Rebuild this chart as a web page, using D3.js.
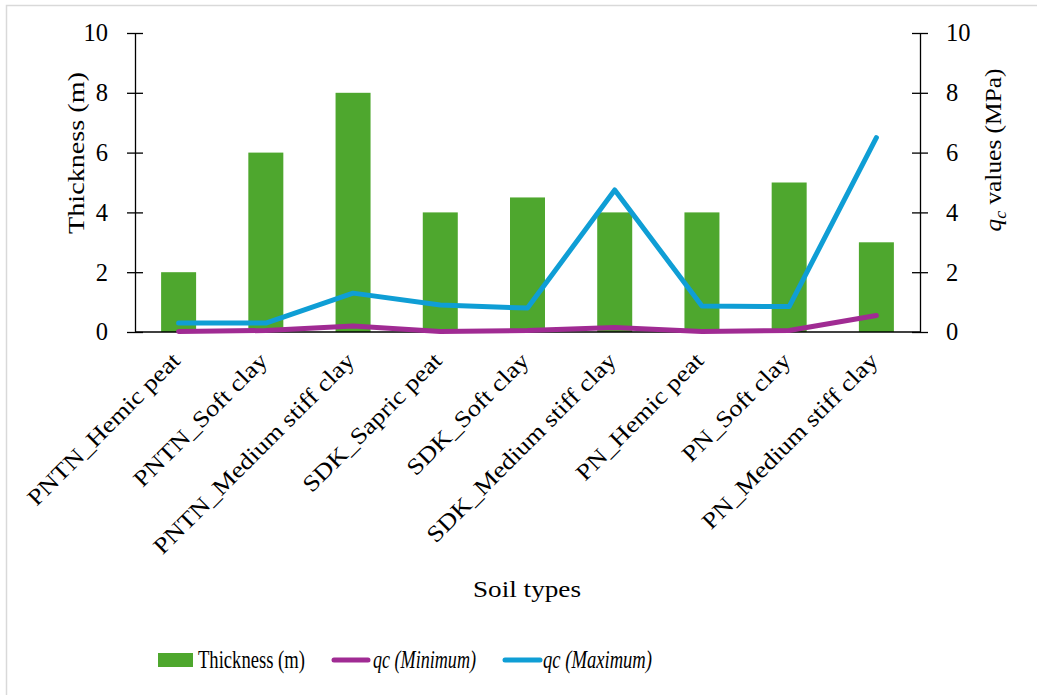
<!DOCTYPE html>
<html>
<head>
<meta charset="utf-8">
<script src="https://cdn.jsdelivr.net/npm/d3@7"></script>
<style>
  html, body { margin: 0; padding: 0; background: #fff; }
  svg { display: block; font-family: "Liberation Serif", "DejaVu Serif", serif; }
</style>
</head>
<body>
<svg id="chart" width="1037" height="695"></svg>
<script>
// Soil layers and their measured properties
const soilTypes = [
  "PNTN_Hemic peat", "PNTN_Soft clay", "PNTN_Medium stiff clay",
  "SDK_Sapric peat", "SDK_Soft clay", "SDK_Medium stiff clay",
  "PN_Hemic peat", "PN_Soft clay", "PN_Medium stiff clay"
];
const thickness = [2, 6, 8, 4, 4.5, 4, 4, 5, 3];
const qcMinimum = [0.02, 0.05, 0.2, 0.02, 0.05, 0.15, 0.02, 0.05, 0.55];
const qcMaximum = [0.3, 0.3, 1.3, 0.9, 0.8, 4.75, 0.87, 0.85, 6.5];
const leftTicks = [0, 2, 4, 6, 8, 10];
const rightTicks = [0, 2, 4, 6, 8, 10];

const colors = { bar: "#4EA72E", min: "#A02B93", max: "#0F9ED5" };

const svg = d3.select("#chart");
const plot = { left: 135, right: 920, top: 33, bottom: 332 };

// Widen a text element to a wider serif's proportions
function stretch(sel, factor) {
  sel.each(function () {
    const len = this.getComputedTextLength();
    d3.select(this).attr("textLength", len * factor).attr("lengthAdjust", "spacingAndGlyphs");
  });
}
function fitTo(sel, width) {
  sel.attr("textLength", width).attr("lengthAdjust", "spacingAndGlyphs");
}

// Outer frame (left and top edges visible)
svg.append("path")
  .attr("d", "M6.5,695 V5.5 H1037")
  .attr("fill", "none").attr("stroke", "#d9d9d9").attr("stroke-width", 1.5);

const xc = d3.scalePoint().domain(soilTypes).range([plot.left, plot.right]).padding(0.5);
const yL = d3.scaleLinear().domain([0, 10]).range([plot.bottom, plot.top]);
const yR = d3.scaleLinear().domain([0, 10]).range([plot.bottom, plot.top]);

// Bars: layer thickness
svg.append("g").selectAll("rect")
  .data(soilTypes)
  .join("rect")
  .attr("x", (d) => xc(d) - 17.5)
  .attr("width", 35)
  .attr("y", (d, i) => yL(thickness[i]))
  .attr("height", (d, i) => yL(0) - yL(thickness[i]))
  .attr("fill", colors.bar);

// X baseline
svg.append("line")
  .attr("x1", plot.left).attr("x2", plot.right)
  .attr("y1", plot.bottom).attr("y2", plot.bottom)
  .attr("stroke", "#000").attr("stroke-width", 1.3);

// Left axis
const leftAxis = svg.append("g")
  .attr("transform", `translate(${plot.left},0)`)
  .call(d3.axisLeft(yL).tickValues(leftTicks).tickSize(0).tickPadding(27));
leftAxis.select(".domain").attr("stroke", "#000").attr("stroke-width", 1.3);
leftAxis.selectAll(".tick line").remove();
leftAxis.selectAll(".tick").append("line")
  .attr("x1", -8).attr("x2", 8).attr("stroke", "#000").attr("stroke-width", 1.3);
leftAxis.selectAll("text").attr("font-size", 24.5).attr("font-family", "Liberation Serif").attr("fill", "#000");

// Right axis
const rightAxis = svg.append("g")
  .attr("transform", `translate(${plot.right},0)`)
  .call(d3.axisRight(yR).tickValues(rightTicks).tickSize(0).tickPadding(26));
rightAxis.select(".domain").attr("stroke", "#000").attr("stroke-width", 1.3);
rightAxis.selectAll(".tick line").remove();
rightAxis.selectAll(".tick").append("line")
  .attr("x1", -8).attr("x2", 8).attr("stroke", "#000").attr("stroke-width", 1.3);
rightAxis.selectAll("text").attr("font-size", 24.5).attr("font-family", "Liberation Serif").attr("fill", "#000");

// Lines: cone resistance
const qcLine = d3.line().x((d, i) => xc(soilTypes[i])).y((d) => yR(d));
svg.append("path").datum(qcMinimum)
  .attr("d", qcLine).attr("fill", "none")
  .attr("stroke", colors.min).attr("stroke-width", 5)
  .attr("stroke-linecap", "round").attr("stroke-linejoin", "round");
svg.append("path").datum(qcMaximum)
  .attr("d", qcLine).attr("fill", "none")
  .attr("stroke", colors.max).attr("stroke-width", 5)
  .attr("stroke-linecap", "round").attr("stroke-linejoin", "round");

// Category labels, rotated
const catLabels = svg.append("g").selectAll("text")
  .data(soilTypes)
  .join("text")
  .attr("transform", (d) => `translate(${xc(d) + 3},${plot.bottom + 30}) rotate(-45)`)
  .attr("text-anchor", "end")
  .attr("font-size", 23)
  .attr("fill", "#000")
  .text((d) => d);
stretch(catLabels, 1.16);

// Axis titles
const lt = svg.append("text")
  .attr("transform", `translate(84,153) rotate(-90)`)
  .attr("text-anchor", "middle").attr("font-size", 23).attr("fill", "#000")
  .text("Thickness (m)");
fitTo(lt, 162);

const rt = svg.append("text")
  .attr("transform", `translate(1001,150) rotate(-90)`)
  .attr("text-anchor", "middle").attr("font-size", 23).attr("fill", "#000");
rt.append("tspan").attr("font-style", "italic").text("q");
rt.append("tspan").attr("font-style", "italic").attr("font-size", 16).attr("dy", 5).text("c");
rt.append("tspan").attr("dy", -5).text(" values (MPa)");
fitTo(rt, 163);

const st = svg.append("text")
  .attr("x", 527).attr("y", 597)
  .attr("text-anchor", "middle").attr("font-size", 23).attr("fill", "#000")
  .text("Soil types");
fitTo(st, 108);

// Legend
const legend = svg.append("g");
legend.append("rect").attr("x", 158).attr("y", 653).attr("width", 35).attr("height", 14).attr("fill", colors.bar);
fitTo(legend.append("text").attr("x", 198).attr("y", 668).attr("font-size", 25).attr("fill", "#000").text("Thickness (m)"), 107);
legend.append("line").attr("x1", 334).attr("x2", 368).attr("y1", 660).attr("y2", 660)
  .attr("stroke", colors.min).attr("stroke-width", 5).attr("stroke-linecap", "round");
fitTo(legend.append("text").attr("x", 373).attr("y", 668).attr("font-size", 25).attr("font-style", "italic").attr("fill", "#000").text("qc (Minimum)"), 103);
legend.append("line").attr("x1", 505).attr("x2", 540).attr("y1", 660).attr("y2", 660)
  .attr("stroke", colors.max).attr("stroke-width", 5).attr("stroke-linecap", "round");
fitTo(legend.append("text").attr("x", 543).attr("y", 668).attr("font-size", 25).attr("font-style", "italic").attr("fill", "#000").text("qc (Maximum)"), 109);
</script>
</body>
</html>
